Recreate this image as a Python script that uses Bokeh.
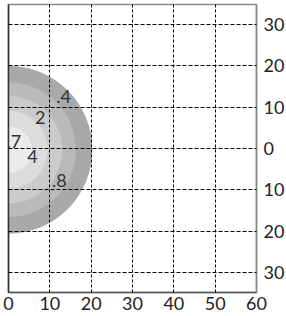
from bokeh.plotting import figure
from bokeh.models import Range1d, LinearAxis, FixedTicker, ColumnDataSource
from bokeh.embed import file_html
from bokeh.resources import INLINE

# contour bands (outer -> inner): radius in data units and fill colours
band_radius = [20.3, 16.3, 13.0, 9.5, 5.7]
band_color = ["#a9a9a9", "#bababa", "#cbcbcb", "#dcdcdc", "#ebebeb"]
center_x = [0.0]
center_y = [-0.3]

# contour labels
lab_text = [".7", "4", "2", ".4", ".8"]
lab_x = [1.3, 5.8, 7.7, 13.3, 12.3]
lab_y = [1.6, -1.9, 7.6, 12.5, -7.7]

x_ticks = [0, 10, 20, 30, 40, 50, 60]
y_ticks = [-30, -20, -10, 0, 10, 20, 30]
y_tick_labels = ["30", "20", "10", "0", "10", "20", "30"]

FONT = "Lato"
FS = "18px"

p = figure(frame_width=248, frame_height=288, output_backend="svg",
           toolbar_location=None, x_range=Range1d(0, 60), y_range=Range1d(-34.8, 34.8),
           min_border_left=8, min_border_top=4, min_border_right=0, min_border_bottom=0,
           y_axis_location=None)
p.background_fill_color = "white"
p.border_fill_color = "white"
p.outline_line_color = "#888888"
p.outline_line_width = 1.5

for r, c in zip(band_radius, band_color):
    p.circle(x=center_x, y=center_y, radius=r, fill_color=c, line_color=None)

src = ColumnDataSource(dict(x=lab_x, y=lab_y, t=lab_text))
p.text(x="x", y="y", text="t", source=src, text_align="center", text_baseline="middle",
       text_font_size=FS, text_color="#333333", text_font={"value": FONT})

# bottom axis
xa = p.xaxis[0]
xa.ticker = FixedTicker(ticks=x_ticks)
xa.major_tick_out = 0
xa.major_tick_in = 0
xa.minor_tick_out = 0
xa.minor_tick_in = 0
xa.major_label_standoff = 4
xa.major_label_text_font = FONT
xa.major_label_text_font_size = FS
xa.major_label_text_color = "#222222"
xa.axis_line_color = "#555555"
xa.axis_line_width = 1.5

# right axis
ya = LinearAxis(ticker=FixedTicker(ticks=y_ticks))
ya.major_label_overrides = {t: s for t, s in zip(y_ticks, y_tick_labels)}
ya.major_tick_out = 0
ya.major_tick_in = 0
ya.minor_tick_out = 0
ya.minor_tick_in = 0
ya.major_label_standoff = 7
ya.major_label_text_font = FONT
ya.major_label_text_font_size = FS
ya.major_label_text_color = "#222222"
ya.axis_line_color = "#888888"
ya.axis_line_width = 1.5
p.add_layout(ya, "right")

p.xgrid.ticker = FixedTicker(ticks=x_ticks)
p.ygrid.ticker = FixedTicker(ticks=y_ticks)
p.xgrid.grid_line_color = "black"
p.ygrid.grid_line_color = "black"
p.xgrid.grid_line_dash = "3 2"
p.ygrid.grid_line_dash = "4 2"
p.xgrid.level = "overlay"
p.ygrid.level = "overlay"

# left spine
p.add_layout(LinearAxis(ticker=FixedTicker(ticks=[]), axis_line_color="#333333",
                        axis_line_width=1.5, major_label_text_font_size="0px",
                        major_label_standoff=0,
                        major_tick_out=0, minor_tick_out=0), "left")

open("out.html", "w").write(file_html(p, INLINE))
